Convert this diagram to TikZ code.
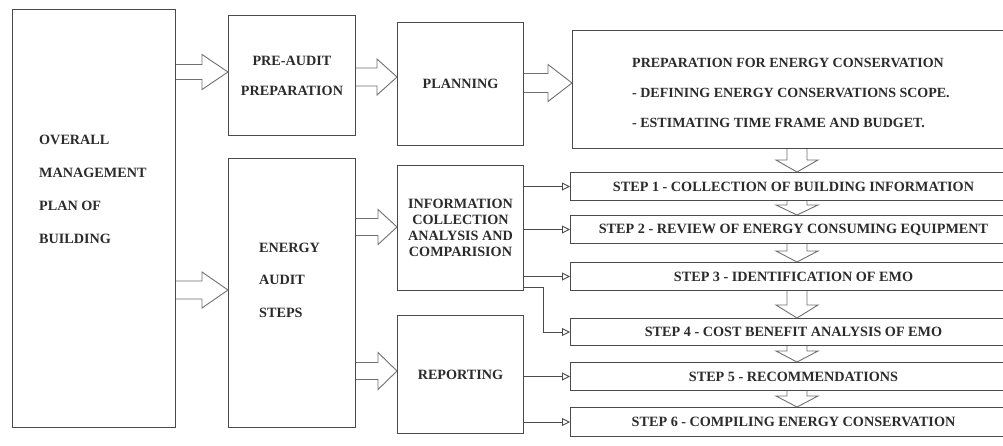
\documentclass[tikz,border=0pt]{standalone}
\usepackage{fontspec}
\setmainfont{Liberation Serif}
\usetikzlibrary{calc,arrows.meta}

\definecolor{ink}{HTML}{2B2B2B}
\definecolor{edge}{HTML}{4A4A4A}
\definecolor{blockedge}{HTML}{707070}

\newcommand\lblfont{\fontsize{14.2}{16}\selectfont\bfseries}

\tikzset{
  box/.style={draw=edge, line width=1pt, anchor=north west, inner sep=0pt,
              text=ink, font=\lblfont, align=center},
  txt/.style={inner sep=0pt, text=ink, anchor=west, align=left},
  blk/.style={draw=blockedge, line width=0.9pt, line join=miter},
  link/.style={draw=edge, line width=0.9pt, -{Triangle[open,length=8pt,width=8pt]}},
}

% hollow block arrow pointing right, from node #1 to node #2 at height #3
% #4 half shaft width, #5 half head width, #6 head length
\newcommand\rblock[6]{%
  \path (#1.east |- 0,#3) coordinate (ba) (#2.west |- 0,#3) coordinate (bb);
  \draw[blk] ($(ba)+(0,-#4)$) -- ($(bb)+(-#6,-#4)$) -- ($(bb)+(-#6,-#5)$) -- (bb)
    -- ($(bb)+(-#6,#5)$) -- ($(bb)+(-#6,#4)$) -- ($(ba)+(0,#4)$);
}
% hollow block arrow pointing down, from node #1 to node #2 at abscissa #3
\newcommand\dblock[6]{%
  \path (#1.south -| #3,0) coordinate (ba) (#2.north -| #3,0) coordinate (bb);
  \draw[blk] ($(ba)+(-#4,0)$) -- ($(bb)+(-#4,-#6)$) -- ($(bb)+(-#5,-#6)$) -- (bb)
    -- ($(bb)+(#5,-#6)$) -- ($(bb)+(#4,-#6)$) -- ($(ba)+(#4,0)$);
}

\begin{document}
\begin{tikzpicture}[x=1pt,y=-1pt]
\clip (0,0) rectangle (1003,445);
\fill[white] (0,0) rectangle (1003,445);

% left column
\node[box, minimum width=163, minimum height=418] (ov) at (12,9) {};
\node[txt, font=\fontsize{14.2}{33}\selectfont\bfseries] (ovt) at (39,189)
  {OVERALL\\MANAGEMENT\\PLAN OF\\BUILDING};

% second column
\node[box, minimum width=127, minimum height=120, font=\fontsize{14.2}{30}\selectfont\bfseries]
  (pre) at (228,15) {PRE-AUDIT\\PREPARATION};
\node[box, minimum width=127, minimum height=269] (aud) at (228,158) {};
\node[txt, font=\fontsize{14.2}{32.5}\selectfont\bfseries] (audt) at (259,280)
  {ENERGY\\AUDIT\\STEPS};

% third column
\node[box, minimum width=126, minimum height=123] (plan) at (397,22) {PLANNING};
\node[box, minimum width=126, minimum height=125] (info) at (397,165)
  {INFORMATION\\COLLECTION\\ANALYSIS AND\\COMPARISION};
\node[box, minimum width=126, minimum height=118] (rep) at (397,315) {REPORTING};

% right column
\node[box, minimum width=446, minimum height=118] (prep) at (572,30) {};
\node[txt, font=\fontsize{14}{30}\selectfont\bfseries] (prept) at (632,93)
  {PREPARATION FOR ENERGY CONSERVATION\\
   - DEFINING ENERGY CONSERVATIONS SCOPE.\\
   - ESTIMATING TIME FRAME AND BUDGET.};

\node[box, minimum width=446, minimum height=28] (s1) at (570,172)
  {STEP 1 - COLLECTION OF BUILDING INFORMATION};
\node[box, minimum width=446, minimum height=28] (s2) at (570,215)
  {STEP 2 - REVIEW OF ENERGY CONSUMING EQUIPMENT};
\node[box, minimum width=446, minimum height=28] (s3) at (570,262)
  {STEP 3 - IDENTIFICATION OF EMO};
\node[box, minimum width=446, minimum height=27] (s4) at (570,318)
  {STEP 4 - COST BENEFIT ANALYSIS OF EMO};
\node[box, minimum width=446, minimum height=28] (s5) at (570,362)
  {STEP 5 - RECOMMENDATIONS};
\node[box, minimum width=446, minimum height=29] (s6) at (570,407)
  {STEP 6 - COMPILING ENERGY CONSERVATION};

% block arrows between the columns
\rblock{ov}{pre}{72}{7.5}{17.5}{26}
\rblock{ov}{aud}{290}{9}{18}{26}
\rblock{pre}{plan}{77}{9}{18}{20}
\rblock{plan}{prep}{83}{9.5}{18.5}{24}
\rblock{aud}{info}{227}{8.5}{17.5}{19}
\rblock{aud}{rep}{371}{8.5}{18.5}{19}

% block arrows down the chain of steps
\dblock{prep}{s1}{797}{10}{21}{12}
\dblock{s1}{s2}{797}{10}{21}{10}
\dblock{s2}{s3}{797}{10}{21}{11}
\dblock{s3}{s4}{797}{10}{21}{13}
\dblock{s4}{s5}{797}{10}{21}{11}
\dblock{s5}{s6}{797}{10}{21}{11}

% thin connectors to the steps
\draw[link] (info.east |- s1.west) -- (s1.west);
\draw[link] (info.east |- s2.west) -- (s2.west);
\draw[link] (info.east |- s3.west) -- (s3.west);
\draw[link] (info.east |- 0,287) -- ++(19,0) |- (s4.west);
\draw[link] (rep.east |- s5.west) -- (s5.west);
\draw[link] (rep.east |- s6.west) -- (s6.west);
\end{tikzpicture}
\end{document}
